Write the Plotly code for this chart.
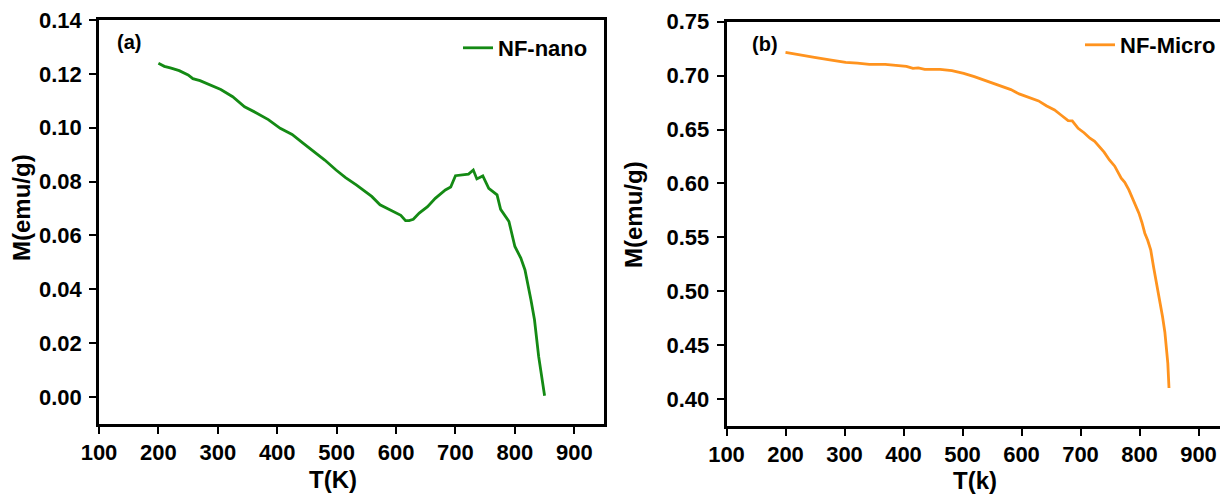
import plotly.graph_objects as go

nano_T = [200, 210, 220, 235, 250, 258, 270, 285, 305, 325, 345, 365, 385, 405, 425, 445, 466, 480, 499, 515,
          533, 548, 559, 573, 585, 599, 608, 616, 622, 629, 639, 653, 666, 683, 692, 700, 713, 722, 730, 736,
          746, 756, 770, 776, 790, 800, 810, 817, 827, 833, 840, 846, 850]
nano_M = [0.1239, 0.1228, 0.1222, 0.1212, 0.1196, 0.1182, 0.1175, 0.1160, 0.1142, 0.1115, 0.1078, 0.1055, 0.1030,
          0.0998, 0.0975, 0.0940, 0.0905, 0.0880, 0.0843, 0.0815, 0.0788, 0.0765, 0.0745, 0.0714, 0.0700, 0.0683,
          0.0675, 0.0655, 0.0655, 0.0660, 0.0683, 0.0707, 0.0738, 0.0769, 0.0780, 0.0822, 0.0825, 0.0828, 0.0843,
          0.0810, 0.0821, 0.0775, 0.0751, 0.0697, 0.0652, 0.0559, 0.0516, 0.0472, 0.0361, 0.0287, 0.0151, 0.0070,
          0.0005]

micro_T = [200, 225, 249, 275, 302, 322, 342, 369, 396, 405, 416, 425, 436, 449, 462, 482, 502, 520, 536, 552,
           569, 582, 596, 612, 629, 642, 656, 668, 679, 686, 696, 706, 716, 724, 732, 740, 749, 758, 769, 775,
           782, 790, 799, 804, 809, 814, 819, 824, 829, 834, 839, 843, 846, 848, 850]
micro_M = [0.7216, 0.7195, 0.7169, 0.7145, 0.7123, 0.7115, 0.7105, 0.7105, 0.7089, 0.7085, 0.7067, 0.7072, 0.7058,
           0.7060, 0.7058, 0.7046, 0.7021, 0.6990, 0.6959, 0.6930, 0.6898, 0.6870, 0.6830, 0.6795, 0.6765, 0.6720,
           0.6681, 0.6630, 0.6583, 0.6580, 0.6511, 0.6470, 0.6419, 0.6390, 0.6342, 0.6290, 0.6218, 0.6160, 0.6048,
           0.6010, 0.5940, 0.5840, 0.5724, 0.5640, 0.5538, 0.5470, 0.5384, 0.5220, 0.5075, 0.4930, 0.4766, 0.4620,
           0.4480, 0.4330, 0.4102]

x_ticks = [100, 200, 300, 400, 500, 600, 700, 800, 900]
y1_ticks = [0.00, 0.02, 0.04, 0.06, 0.08, 0.10, 0.12, 0.14]
y2_ticks = [0.40, 0.45, 0.50, 0.55, 0.60, 0.65, 0.70, 0.75]

# page has an 8px body margin: the figure is drawn 8px right / 8px down
OFF = 8
W, H = 1228 - OFF, 498 - OFF
FONT = "Liberation Sans, Arial, sans-serif"


def px(x):
    return (x - OFF) / W


def py(y):
    return 1 - (y - OFF) / H


fig = go.Figure()
fig.add_trace(go.Scatter(x=nano_T, y=nano_M, mode="lines", name="NF-nano",
                         line=dict(color="#148a14", width=2.8), xaxis="x", yaxis="y", legend="legend"))
fig.add_trace(go.Scatter(x=micro_T, y=micro_M, mode="lines", name="NF-Micro",
                         line=dict(color="#ff931e", width=2.8), xaxis="x2", yaxis="y2", legend="legend2"))

axis_common = dict(showline=True, linecolor="black", linewidth=2.5, mirror=True,
                   ticks="outside", ticklen=7, tickwidth=2, tickcolor="black",
                   showgrid=False, zeroline=False, automargin=False, ticklabeloverflow="allow",
                   tickfont=dict(family=FONT, size=22, color="black", weight="bold"))

fig.update_layout(
    width=W, height=H,
    margin=dict(l=0, r=0, t=0, b=0, autoexpand=False),
    paper_bgcolor="white", plot_bgcolor="white",
    font=dict(family=FONT, color="black"),
    xaxis=dict(domain=[px(99), px(604)], range=[100, 950], tickvals=x_ticks, anchor="y",
               **axis_common),
    yaxis=dict(domain=[py(424), py(20)], range=[-0.01, 0.14], tickvals=y1_ticks,
               tickformat=".2f", anchor="x", ticklabelstandoff=3, **axis_common),
    xaxis2=dict(domain=[px(726.5), 1.0], range=[100, 950], tickvals=x_ticks, anchor="y2",
                **axis_common),
    yaxis2=dict(domain=[py(426), py(21.7)], range=[0.375, 0.75], tickvals=y2_ticks,
                tickformat=".2f", anchor="x2", ticklabelstandoff=3, **axis_common),
    legend=dict(x=px(458), y=py(48), xanchor="left", yanchor="middle", bgcolor="rgba(0,0,0,0)",
                font=dict(family=FONT, size=22, color="black", weight="bold")),
    legend2=dict(x=px(1080), y=py(45), xanchor="left", yanchor="middle", bgcolor="rgba(0,0,0,0)",
                 font=dict(family=FONT, size=22, color="black", weight="bold")),
    showlegend=True,
)

title_font = dict(family=FONT, size=24, color="black", weight="bold")
label_font = dict(family=FONT, size=20, color="black", weight="bold")
fig.add_annotation(text="T(K)", x=px(333), y=py(479), xref="paper", yref="paper",
                   xanchor="center", yanchor="middle", showarrow=False, font=title_font)
fig.add_annotation(text="T(k)", x=px(975), y=py(480), xref="paper", yref="paper",
                   xanchor="center", yanchor="middle", showarrow=False, font=title_font)
fig.add_annotation(text="M(emu/g)", x=px(21), y=py(208), xref="paper", yref="paper", textangle=-90,
                   xanchor="center", yanchor="middle", showarrow=False, font=title_font)
fig.add_annotation(text="M(emu/g)", x=px(634), y=py(214), xref="paper", yref="paper", textangle=-90,
                   xanchor="center", yanchor="middle", showarrow=False, font=title_font)
fig.add_annotation(text="(a)", x=px(129), y=py(42), xref="paper", yref="paper",
                   xanchor="center", yanchor="middle", showarrow=False, font=label_font)
fig.add_annotation(text="(b)", x=px(765), y=py(44), xref="paper", yref="paper",
                   xanchor="center", yanchor="middle", showarrow=False, font=label_font)

fig.write_html("out.html")
